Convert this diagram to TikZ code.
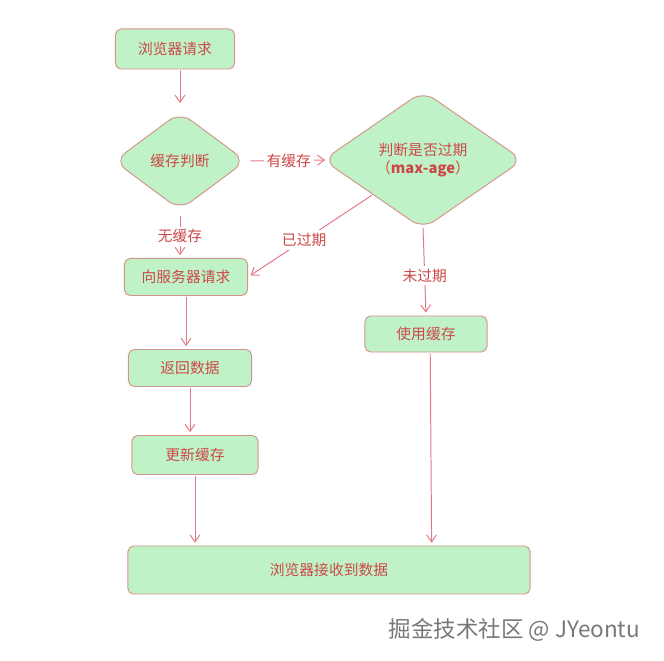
\documentclass[tikz,border=0pt]{standalone}
\usepackage{fontspec}
\setmainfont{Noto Sans CJK SC}
\usetikzlibrary{shapes.geometric,arrows.meta}
\definecolor{boxfill}{RGB}{192,242,200}
\definecolor{boxline}{RGB}{212,150,140}
\definecolor{txtred}{RGB}{204,72,72}
\definecolor{arrowpink}{RGB}{226,122,132}
\definecolor{markgray}{RGB}{120,120,120}
\begin{document}
\begin{tikzpicture}[x=0.025cm, y=-0.025cm, line cap=round, line join=round,
	>={Straight Barb[length=5pt,width=7pt]}, font=\fontsize{10.5}{13}\selectfont,
	flowbox/.style={rectangle, rounded corners=4pt, draw=boxline, fill=boxfill, text=txtred, line width=0.7pt, inner sep=0pt},
	decide/.style={diamond, rounded corners=10pt, draw=boxline, fill=boxfill, text=txtred, line width=0.7pt, inner sep=0pt, align=center},
	link/.style={->, draw=arrowpink, line width=0.7pt, shorten <=1pt, shorten >=2pt},
	tag/.style={fill=white, text=txtred, inner sep=2pt}]
	\useasboundingbox (0,0) rectangle (664,661);
	% Knoten
	\node[flowbox, minimum width=2.975cm, minimum height=1cm] (ask) at (175,49) {浏览器请求};
	\node[decide, minimum width=3.3cm, minimum height=2.45cm] (cache) at (180,161) {缓存判断};
	\node[decide, minimum width=5.0cm, minimum height=3.45cm] (expire) at (423,160) {判断是否过期\\（\textbf{max-age}）};
	\node[flowbox, minimum width=3.075cm, minimum height=0.925cm] (server) at (186,277) {向服务器请求};
	\node[flowbox, minimum width=3.05cm, minimum height=0.9cm] (usecache) at (426,334) {使用缓存};
	\node[flowbox, minimum width=3.075cm, minimum height=0.925cm] (back) at (190,368) {返回数据};
	\node[flowbox, minimum width=3.15cm, minimum height=0.975cm] (update) at (195,455) {更新缓存};
	\node[flowbox, minimum width=10.05cm, minimum height=1.2cm] (recv) at (329,570) {浏览器接收到数据};
	% Verbindungen
	\draw[link] (cache.north |- ask.south) -- ([yshift=4]cache.north);
	\draw[link] ([yshift=-3]cache.south) -- (cache.south |- server.north) node[tag, midway] {无缓存};
	\draw[link] ([xshift=2]cache.east) -- ([xshift=4]expire.west) node[tag, midway] {有缓存};
	\draw[link] (expire.south west) -- (server.east) node[tag, pos=0.55] {已过期};
	\draw[link] ([yshift=2]expire.south) -- (usecache.north) node[tag, pos=0.55] {未过期};
	\draw[link] (server.south) -- (server.south |- back.north);
	\draw[link] (back.south) -- (back.south |- update.north);
	\draw[link] (update.south) -- (update.south |- recv.north);
	\draw[link] ([xshift=3]usecache.south) -- ([xshift=4]usecache.south |- recv.north);
	% Wasserzeichen
	\node[text=markgray, font=\fontsize{16}{18}\selectfont, anchor=east] (mark) at (645,630) {掘金技术社区 @ JYeontu};
\end{tikzpicture}
\end{document}
